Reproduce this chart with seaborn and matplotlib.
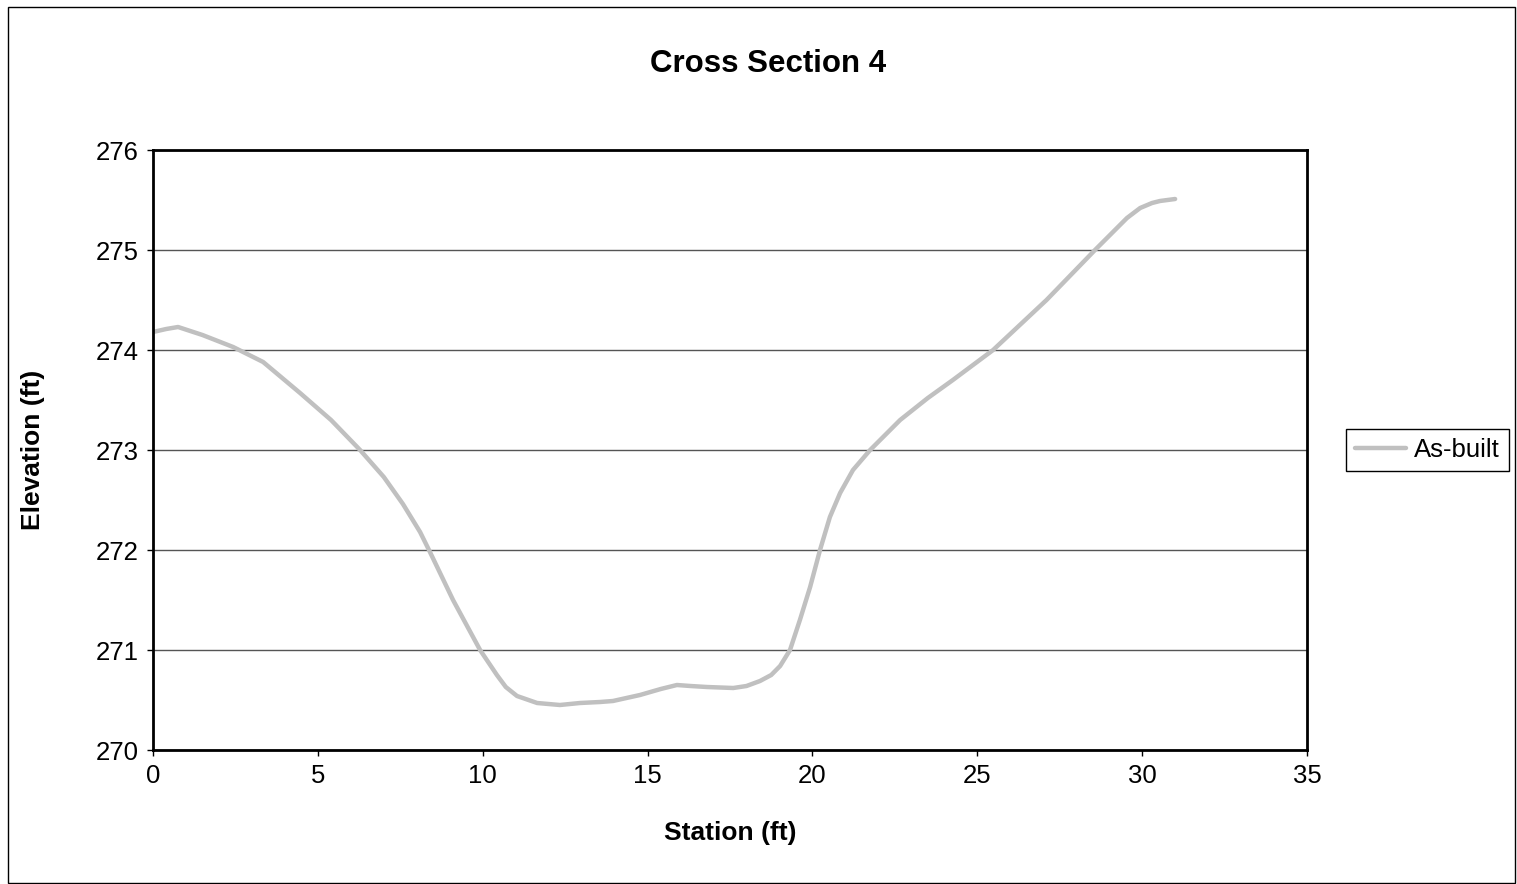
import matplotlib
matplotlib.use('Agg')
import matplotlib.pyplot as plt
import seaborn as sns
import pandas as pd
from matplotlib.patches import Rectangle

station = [0.0, 0.4, 0.76, 1.5, 2.43, 3.34, 4.46, 5.4, 6.28, 7.0, 7.58, 8.1, 8.4,
           9.1, 9.92, 10.43, 10.7, 11.04, 11.65, 12.34, 12.95, 13.56, 13.95, 14.77,
           15.4, 15.89, 16.3, 16.8, 17.6, 18.0, 18.41, 18.75, 19.02, 19.32, 19.62,
           19.93, 20.23, 20.53, 20.84, 21.23, 21.75, 22.66, 23.5, 24.26,
           25.48, 27.1, 28.57, 29.54, 29.94, 30.3, 30.54, 31.0]
elevation = [274.18, 274.21, 274.23, 274.15, 274.03, 273.88, 273.57, 273.3, 273.0, 272.73,
             272.46, 272.18, 271.98, 271.5, 271.0, 270.75, 270.63, 270.54, 270.47, 270.45,
             270.47, 270.48, 270.49, 270.55, 270.61, 270.65, 270.64, 270.63,
             270.62, 270.64, 270.69, 270.75, 270.84, 271.0, 271.3, 271.63, 272.0, 272.33,
             272.57, 272.8, 273.0, 273.3, 273.52, 273.7, 274.0, 274.5, 275.0,
             275.32, 275.42, 275.47, 275.49, 275.51]
xticks = [0, 5, 10, 15, 20, 25, 30, 35]
yticks = [270, 271, 272, 273, 274, 275, 276]

df = pd.DataFrame({'Station': station, 'Elevation': elevation})

sns.set_style('white')
plt.rcParams['font.family'] = ['Liberation Sans', 'DejaVu Sans']
plt.rcParams['text.color'] = 'black'

fig = plt.figure(figsize=(15.17, 8.84), dpi=100)
ax = fig.add_axes([153 / 1517, 1 - 750 / 884, (1307 - 153) / 1517, 600 / 884])

sns.lineplot(data=df, x='Station', y='Elevation', ax=ax, color='#C0C0C0',
             linewidth=3.2, label='As-built', estimator=None, sort=False)
ax.lines[0].set_solid_capstyle('round')
ax.lines[0].set_solid_joinstyle('round')

ax.set_xlim(0, 35)
ax.set_ylim(270, 276)
ax.set_xticks(xticks)
ax.set_yticks(yticks)
ax.tick_params(axis='both', direction='out', length=4, width=1, labelsize=18.5,
               colors='black', labelcolor='black', pad=6, bottom=True, left=True)
for s in ax.spines.values():
    s.set_color('black')
    s.set_linewidth(2)
ax.yaxis.grid(True, color='#555555', linewidth=1)
ax.xaxis.grid(False)
ax.set_axisbelow(True)

ax.set_xlabel('')
ax.set_ylabel('')
fig.text(730 / 1517, 1 - 833 / 884, 'Station (ft)', ha='center', va='center',
         fontsize=19, fontweight='bold', color='black')
fig.text(33 / 1517, 1 - 450 / 884, 'Elevation (ft)', ha='center', va='center',
         rotation=90, fontsize=19, fontweight='bold', color='black')
fig.text(768 / 1517, 1 - 64 / 884, 'Cross Section 4', ha='center', va='center',
         fontsize=22.5, fontweight='bold', color='black')

leg = ax.legend(loc='center left', bbox_to_anchor=(1346 / 1517, 1 - 450 / 884),
                bbox_transform=fig.transFigure, fontsize=18.5, frameon=True,
                fancybox=False, edgecolor='black', framealpha=1, handlelength=2.0,
                handletextpad=0.3, borderpad=0.35, borderaxespad=0)
leg.get_frame().set_linewidth(1)
for t in leg.get_texts():
    t.set_color('black')

# outer chart border
fig.patches.append(Rectangle((8 / 1517, 1 / 884), 1507 / 1517, 876 / 884,
                             transform=fig.transFigure, fill=False,
                             edgecolor='black', linewidth=1))

fig.savefig('out.png', dpi=100)
